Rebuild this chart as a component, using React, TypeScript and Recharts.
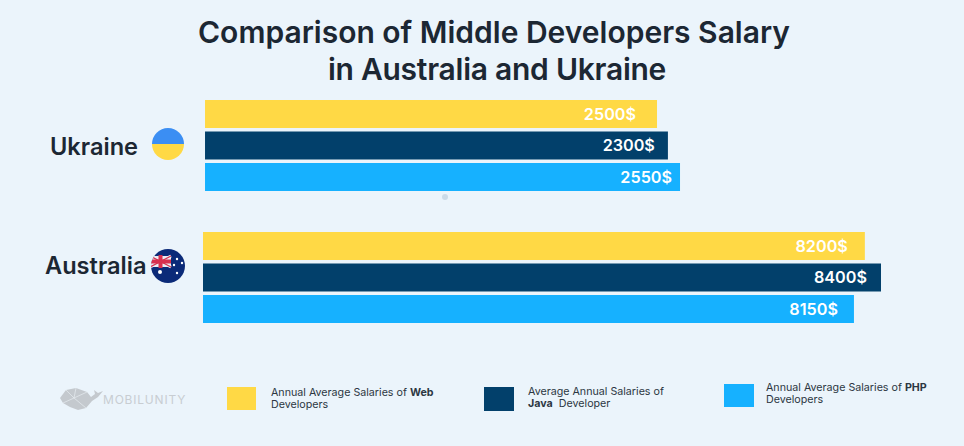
import React from "react";
import { BarChart, Bar, XAxis, YAxis, Legend, LabelList } from "recharts";

const FONT = "Inter, 'Noto Sans', sans-serif";

const titleLines = ["Comparison of Middle Developers Salary", "in Australia and Ukraine"];
const countries = ["Ukraine", "Australia"];

// Salaries as printed on the bars.
const webLabels = ["2500$", "8200$"];
const javaLabels = ["2300$", "8400$"];
const phpLabels = ["2550$", "8150$"];

// Bar ends as drawn in the picture, on an axis where the longest bar is 8400.
// The Ukraine bars in the reference are much longer than their printed figures.
const webLengths = [5625, 8200];
const javaLengths = [5760, 8400];
const phpLengths = [5910, 8065];
// The Ukraine bars start very slightly to the right of the Australia bars.
const barStarts = [25, 0];

const legendEntries = [
  { key: "web", color: "#FFD945", parts: [["Annual Average Salaries of ", false], ["Web", true]], second: [["Developers", false]] },
  { key: "java", color: "#02406B", parts: [["Average Annual Salaries of", false]], second: [["Java", true], ["  Developer", false]] },
  { key: "php", color: "#16B1FF", parts: [["Annual Average Salaries of ", false], ["PHP", true]], second: [["Developers", false]] },
];

const rows = countries.map((name, i) => ({
  name,
  start: barStarts[i],
  web: webLengths[i],
  java: javaLengths[i],
  php: phpLengths[i],
  webLabel: webLabels[i],
  javaLabel: javaLabels[i],
  phpLabel: phpLabels[i],
}));

const range = (key: string) => (d: any) => [d.start, d[key]];

// Gap between a label's right edge and its bar's end, per [Ukraine, Australia].
const labelInsets: Record<string, number[]> = { web: [21, 17], java: [13, 14], php: [8, 16] };

const makeLabel = (series: string) => (props: any) => {
  const { x, y, width, height, index } = props;
  const text = (rows[index] as any)[series + "Label"];
  return (
    <text
      x={x + width - labelInsets[series][index]}
      y={y + height / 2 + 5.5}
      textAnchor="end"
      fill="#FFFFFF"
      fontFamily={FONT}
      fontSize={16.2}
      fontWeight={600}
    >
      {text}
    </text>
  );
};

const UkraineFlag = () => (
  <g>
    <clipPath id="ua">
      <circle cx={168} cy={144} r={16} />
    </clipPath>
    <g clipPath="url(#ua)">
      <rect x={150} y={126} width={36} height={18} fill="#3B8EF3" />
      <rect x={150} y={144} width={36} height={18} fill="#FFD945" />
    </g>
  </g>
);

const AustraliaFlag = () => (
  <g>
    <clipPath id="au">
      <circle cx={168} cy={266} r={17} />
    </clipPath>
    <g clipPath="url(#au)">
      <rect x={150} y={248} width={36} height={36} fill="#0B2A78" />
      <rect x={150} y={256} width={21} height={11} fill="#E9EDF5" />
      <path d="M150 256 L171 267 M171 256 L150 267" stroke="#E9EDF5" strokeWidth={3} />
      <path d="M150 256 L171 267 M171 256 L150 267" stroke="#D8304F" strokeWidth={1.2} />
      <rect x={158.5} y={255} width={4} height={13} fill="#D8304F" />
      <rect x={150} y={259.5} width={21} height={4} fill="#D8304F" />
    </g>
    <circle cx={160} cy={272} r={2} fill="#FFFFFF" />
    {[[177, 259], [182, 263], [174, 265], [177, 273]].map(([cx, cy]) => (
      <circle key={`${cx}-${cy}`} cx={cx} cy={cy} r={1.2} fill="#FFFFFF" />
    ))}
  </g>
);

const CountryTick = (props: any) => {
  const { payload } = props;
  const ukraine = payload.value === "Ukraine";
  return (
    <g>
      <text
        x={ukraine ? 50 : 45}
        y={ukraine ? 155 : 274}
        fill="#1C2733"
        fontFamily={FONT}
        fontSize={23.6}
        fontWeight={600}
      >
        {payload.value}
      </text>
      {ukraine ? <UkraineFlag /> : <AustraliaFlag />}
    </g>
  );
};

const legendBoxes = [
  { swatch: [227, 387, 29, 23], text: [271, 387] },
  { swatch: [484, 387, 30, 24], text: [528, 386] },
  { swatch: [724, 384, 30, 23], text: [766, 382] },
];

const ChartLegend = () => (
  <div style={{ position: "relative", width: 964, height: 0, overflow: "visible", fontFamily: FONT, fontSize: 10.7, lineHeight: "12px", color: "#2C3742" }}>
    {legendEntries.map((entry, i) => {
      const { swatch, text } = legendBoxes[i];
      return (
        <React.Fragment key={entry.key}>
          <div style={{ position: "absolute", left: swatch[0], top: swatch[1], width: swatch[2], height: swatch[3], background: entry.color }} />
          <div style={{ position: "absolute", left: text[0], top: text[1], whiteSpace: "pre" }}>
            {[entry.parts, entry.second].map((line, j) => (
              <div key={j}>
                {line.map(([t, bold], k) => (
                  <span key={k} style={{ fontWeight: bold ? 700 : 400 }}>{t as string}</span>
                ))}
              </div>
            ))}
          </div>
        </React.Fragment>
      );
    })}
    <svg style={{ position: "absolute", left: 0, top: 0 }} width={964} height={446}>
      <path
        d="M60 398 L66 390 L76 388 L87 392 L91 397 L95 394 L94 390 L98 393 L103 391 L98 397 L92 401 L86 408 L78 410 L70 407 L63 403 Z"
        fill="#C4C9CE"
      />
      <path d="M66 390 L74 398 L63 403 M76 388 L74 398 L86 408 M87 392 L74 398" stroke="#E6ECF1" strokeWidth={0.7} fill="none" />
      <text x={103} y={404} fill="#C8CDD2" fontFamily={FONT} fontSize={12} letterSpacing={0.8}>MOBILUNITY</text>
    </svg>
  </div>
);

export default function App() {
  return (
    <div style={{ position: "absolute", left: 0, top: 0, width: 964, height: 446, background: "#EBF4FB", overflow: "hidden" }}>
      <div
        style={{
          position: "absolute",
          left: 0,
          top: 14,
          width: 988,
          textAlign: "center",
          fontFamily: FONT,
          fontSize: 30,
          fontWeight: 600,
          lineHeight: "37px",
          color: "#1C2733",
        }}
      >
        {titleLines.map((line, i) => (
          <div key={line} style={{ letterSpacing: i === 1 ? -0.25 : 0, paddingLeft: i === 1 ? 6 : 0 }}>{line}</div>
        ))}
      </div>
      <div style={{ position: "absolute", left: 0, top: 0 }}>
        <BarChart
          width={964}
          height={446}
          layout="vertical"
          data={rows}
          margin={{ top: 79, right: 83, bottom: 103, left: 0 }}
          barSize={28}
          barGap={3.5}
        >
          <XAxis type="number" hide domain={[0, 8400]} />
          <YAxis type="category" dataKey="name" width={203} axisLine={false} tickLine={false} tick={<CountryTick />} />
          <Legend
            content={<ChartLegend />}
            wrapperStyle={{ position: "absolute", left: 0, top: 0, width: 964, height: 0, bottom: "auto", pointerEvents: "none" }}
          />
          <Bar dataKey={range("web")} name="web" fill="#FFD945" isAnimationActive={false}>
            <LabelList content={makeLabel("web")} />
          </Bar>
          <Bar dataKey={range("java")} name="java" fill="#02406B" isAnimationActive={false}>
            <LabelList content={makeLabel("java")} />
          </Bar>
          <Bar dataKey={range("php")} name="php" fill="#16B1FF" isAnimationActive={false}>
            <LabelList content={makeLabel("php")} />
          </Bar>
        </BarChart>
      </div>
      <div style={{ position: "absolute", left: 442, top: 194, width: 6, height: 6, borderRadius: 3, background: "#CBDBE8" }} />
    </div>
  );
}
